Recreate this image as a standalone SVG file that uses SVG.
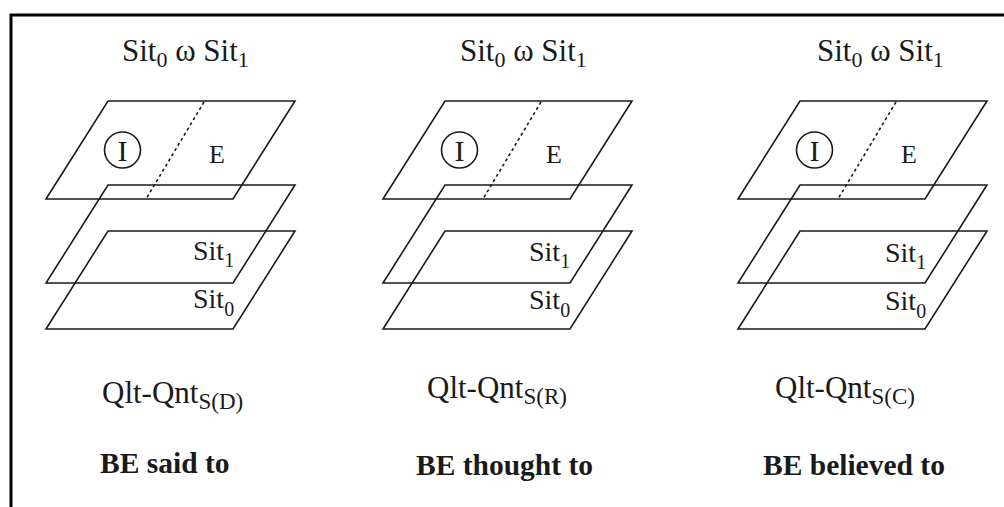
<svg xmlns="http://www.w3.org/2000/svg" xmlns:xlink="http://www.w3.org/1999/xlink" width="1004" height="507" viewBox="0 0 1004 507">
<style>
.plane{fill:none;stroke:#1a1a1a;stroke-width:1.6;stroke-linejoin:miter}
.dash{fill:none;stroke:#1a1a1a;stroke-width:1.6;stroke-dasharray:3 3}
.circ{fill:none;stroke:#1a1a1a;stroke-width:1.6}
.t{font-family:"Liberation Serif","Times New Roman",serif;fill:#1a1a1a}
.title{font-size:31px}
.lab{font-size:28px}
.q{font-size:31px}
.be{font-size:29.5px;font-weight:bold}
.frame{stroke:#000;stroke-width:3;fill:none}
</style>
<defs>
<path id="plane" class="plane" d="M62,0 H249 L187,98 H0 Z"/>
</defs>
<rect width="1004" height="507" fill="#fff"/>
<g id="frame">
<path class="frame" d="M11,507 V15 H1004"/>
</g>
<g id="connectors"></g>
<g id="panel1">
<text class="t title" x="122" y="61">Sit<tspan font-size="22" dy="6">0</tspan><tspan dy="-6"> ω Sit</tspan><tspan font-size="22" dy="6">1</tspan></text>
<use xlink:href="#plane" x="46" y="101"/>
<use xlink:href="#plane" x="46" y="185"/>
<use xlink:href="#plane" x="46" y="231"/>
<line class="dash" x1="204" y1="102" x2="146" y2="199"/>
<circle class="circ" cx="122.5" cy="150" r="18"/>
<text class="t" x="122.5" y="161" font-size="30" text-anchor="middle">I</text>
<text class="t" x="209" y="163" font-size="26">E</text>
<text class="t lab" x="193" y="260">Sit<tspan font-size="20" dy="7">1</tspan></text>
<text class="t lab" x="193" y="308">Sit<tspan font-size="20" dy="8">0</tspan></text>
<text class="t q" x="102" y="403">Qlt-Qnt<tspan font-size="23" dy="6">S(D)</tspan></text>
<text class="t be" x="100" y="473">BE said to</text>
</g>
<g id="panel2">
<text class="t title" x="460" y="61">Sit<tspan font-size="22" dy="6">0</tspan><tspan dy="-6"> ω Sit</tspan><tspan font-size="22" dy="6">1</tspan></text>
<use xlink:href="#plane" x="383" y="101"/>
<use xlink:href="#plane" x="383" y="185"/>
<use xlink:href="#plane" x="383" y="231"/>
<line class="dash" x1="541" y1="102" x2="483" y2="199"/>
<circle class="circ" cx="459.5" cy="150" r="18"/>
<text class="t" x="459.5" y="161" font-size="30" text-anchor="middle">I</text>
<text class="t" x="546" y="163" font-size="26">E</text>
<text class="t lab" x="529" y="261">Sit<tspan font-size="20" dy="7">1</tspan></text>
<text class="t lab" x="529" y="309">Sit<tspan font-size="20" dy="8">0</tspan></text>
<text class="t q" x="427" y="398">Qlt-Qnt<tspan font-size="23" dy="6">S(R)</tspan></text>
<text class="t be" x="416" y="475">BE thought to</text>
</g>
<g id="panel3">
<text class="t title" x="817" y="61">Sit<tspan font-size="22" dy="6">0</tspan><tspan dy="-6"> ω Sit</tspan><tspan font-size="22" dy="6">1</tspan></text>
<use xlink:href="#plane" x="738" y="101"/>
<use xlink:href="#plane" x="738" y="185"/>
<use xlink:href="#plane" x="738" y="231"/>
<line class="dash" x1="896" y1="102" x2="838" y2="199"/>
<circle class="circ" cx="814.5" cy="150" r="18"/>
<text class="t" x="814.5" y="161" font-size="30" text-anchor="middle">I</text>
<text class="t" x="901" y="163" font-size="26">E</text>
<text class="t lab" x="885" y="262">Sit<tspan font-size="20" dy="7">1</tspan></text>
<text class="t lab" x="885" y="310">Sit<tspan font-size="20" dy="8">0</tspan></text>
<text class="t q" x="775" y="398">Qlt-Qnt<tspan font-size="23" dy="6">S(C)</tspan></text>
<text class="t be" x="763" y="475">BE believed to</text>
</g>
</svg>
